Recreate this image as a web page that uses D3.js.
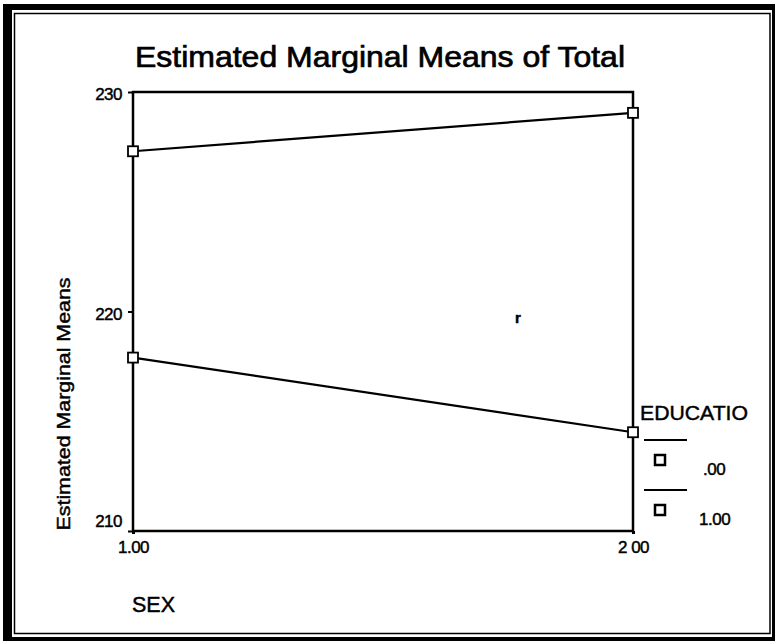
<!DOCTYPE html>
<html>
<head>
<meta charset="utf-8">
<script src="https://cdn.jsdelivr.net/npm/d3@7"></script>
<style>
  html, body { margin: 0; padding: 0; background: #fff; }
  svg { display: block; font-family: Arial, "Liberation Sans", sans-serif; }
  text { stroke: #000; stroke-width: 0.45px; }
</style>
</head>
<body>
<svg id="chart" width="776" height="643"></svg>
<script>
// ---- data ----
const sexCategories = ["1.00", "2.00"];
const sexTickLabels = ["1.00", "2 00"];
const educationLevels = [".00", "1.00"];
const meansEdu0 = [227.3, 229.05];
const meansEdu1 = [217.9, 214.5];
const yTicks = [210, 220, 230];
const titleText = "Estimated Marginal Means of Total";
const yLabel = "Estimated Marginal Means";
const xLabel = "SEX";
const legendTitle = "EDUCATIO";

const series = [
  { name: educationLevels[0], values: meansEdu0 },
  { name: educationLevels[1], values: meansEdu1 }
];

const svg = d3.select("#chart");
const W = 776, H = 643;

// ---- outer double border ----
svg.append("rect").attr("x", 0).attr("y", 0).attr("width", W).attr("height", H).attr("fill", "#fff");
const g0 = svg.append("g").attr("fill", "#000");
g0.append("rect").attr("x", 3).attr("y", 4).attr("width", 9).attr("height", 637);
g0.append("rect").attr("x", 3).attr("y", 4).attr("width", 771).attr("height", 6);
g0.append("rect").attr("x", 3).attr("y", 637).attr("width", 771).attr("height", 4);
g0.append("rect").attr("x", 772).attr("y", 4).attr("width", 3).attr("height", 637);
svg.append("rect").attr("x", 14.5).attr("y", 13.5).attr("width", 755.5).attr("height", 620)
  .attr("fill", "none").attr("stroke", "#000").attr("stroke-width", 1.5);

// ---- scales ----
const plot = { left: 133, right: 633, top: 92, bottom: 531 };
const x = d3.scalePoint().domain(sexCategories).range([plot.left, plot.right]);
const y = d3.scaleLinear().domain([210, 230]).range([plot.bottom, plot.top]);

// ---- title ----
svg.append("text")
  .attr("x", 135).attr("y", 67)
  .attr("font-size", 30)
  .style("stroke-width", "0.7px")
  .attr("textLength", 490).attr("lengthAdjust", "spacingAndGlyphs")
  .text(titleText);

// ---- frame ----
svg.append("rect")
  .attr("x", plot.left).attr("y", plot.top)
  .attr("width", plot.right - plot.left).attr("height", plot.bottom - plot.top)
  .attr("fill", "none").attr("stroke", "#000").attr("stroke-width", 2.5);

// ---- y axis ----
const yAxis = svg.append("g")
  .attr("transform", `translate(${plot.left},0)`)
  .call(d3.axisLeft(y).tickValues(yTicks).tickSize(5).tickFormat(d3.format("d")));
yAxis.select(".domain").remove();
yAxis.selectAll(".tick line").attr("stroke", "#000").attr("stroke-width", 2);
yAxis.selectAll(".tick text")
  .attr("font-family", "Arial, 'Liberation Sans', sans-serif")
  .attr("font-size", 17).attr("fill", "#000")
  .attr("x", -11)
  .attr("dy", d => d === 210 ? "-0.25em" : "0.45em")
  .attr("letter-spacing", -0.5);

// ---- x axis ----
const xAxis = svg.append("g")
  .attr("transform", `translate(0,${plot.bottom})`)
  .call(d3.axisBottom(x).tickSize(3).tickFormat((d, i) => sexTickLabels[i]));
xAxis.select(".domain").remove();
xAxis.selectAll(".tick line").attr("stroke", "#000").attr("stroke-width", 3);
xAxis.selectAll(".tick text")
  .attr("font-family", "Arial, 'Liberation Sans', sans-serif")
  .attr("font-size", 17).attr("fill", "#000")
  .attr("y", 10).attr("dy", "0.71em")
  .attr("letter-spacing", -0.5);

// ---- axis titles ----
svg.append("text")
  .attr("transform", "translate(70,404) rotate(-90)")
  .attr("text-anchor", "middle")
  .attr("font-size", 19)
  .attr("textLength", 253).attr("lengthAdjust", "spacingAndGlyphs")
  .text(yLabel);

svg.append("text")
  .attr("x", 132).attr("y", 612)
  .attr("font-size", 22)
  .attr("textLength", 43).attr("lengthAdjust", "spacingAndGlyphs")
  .text(xLabel);

// ---- lines & markers ----
const line = d3.line().x((d, i) => x(sexCategories[i])).y(d => y(d));
const sq = 10;
series.forEach(s => {
  svg.append("path")
    .datum(s.values)
    .attr("d", line)
    .attr("fill", "none").attr("stroke", "#000").attr("stroke-width", 2.2);
  svg.selectAll(null)
    .data(s.values)
    .enter().append("rect")
    .attr("x", (d, i) => x(sexCategories[i]) - sq / 2)
    .attr("y", d => y(d) - sq / 2)
    .attr("width", sq).attr("height", sq)
    .attr("fill", "#fff").attr("stroke", "#000").attr("stroke-width", 1.8);
});

// stray mark visible in reference
svg.append("text").attr("x", 515).attr("y", 323)
  .attr("font-size", 15).attr("font-weight", "bold").text("r");

// ---- legend ----
const lg = svg.append("g");
lg.append("text").attr("x", 640).attr("y", 420).attr("font-size", 21)
  .attr("textLength", 108).attr("lengthAdjust", "spacingAndGlyphs")
  .text(legendTitle);
series.forEach((s, i) => {
  const top = 440 + i * 50;
  lg.append("line").attr("x1", 644).attr("x2", 687).attr("y1", top).attr("y2", top)
    .attr("stroke", "#000").attr("stroke-width", 2);
  lg.append("rect").attr("x", 655).attr("y", top + 15).attr("width", 10).attr("height", 10)
    .attr("fill", "#fff").attr("stroke", "#000").attr("stroke-width", 2.5);
  lg.append("text").attr("x", i === 0 ? 703 : 699).attr("y", top + 35)
    .attr("font-size", 17).attr("letter-spacing", -0.5).text(s.name);
});
</script>
</body>
</html>
